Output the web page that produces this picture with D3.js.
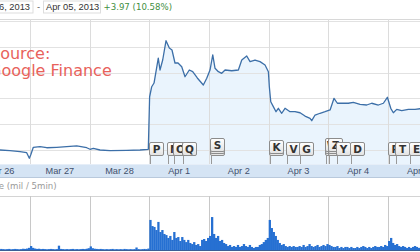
<!DOCTYPE html>
<html>
<head>
<meta charset="utf-8">
<script src="https://cdn.jsdelivr.net/npm/d3@7"></script>
<style>
  body { margin: 0; background: #fff; overflow: hidden; }
  svg { display: block; font-family: "DejaVu Sans", sans-serif; }
</style>
</head>
<body>
<svg width="420" height="252"></svg>
<script>
// header
const rangeStart = "Mar 26, 2013";
const rangeEnd   = "Apr 05, 2013";
const change     = "+3.97 (10.58%)";

// trading days, t = days since Mar 26 open
const days = ["Mar 26", "Mar 27", "Mar 28", "Apr 1", "Apr 2", "Apr 3", "Apr 4", "Apr 5"];
const priceTicks = [37.5, 40, 42.5, 45, 47.5, 50];

const priceTimes = [
    0.45, 0.498, 0.665, 0.833, 0.945, 0.989, 1.012, 1.056, 1.168, 1.280, 1.448, 1.615, 1.783, 1.951,
    2.006, 2.061, 2.174, 2.341, 2.621, 2.844, 2.983,
    3.005, 3.040, 3.079, 3.150, 3.179, 3.224, 3.280, 3.335, 3.380, 3.430, 3.481, 3.543, 3.598,
    3.670, 3.727, 3.804, 3.905, 3.962,
    4.017, 4.063, 4.101, 4.157, 4.213, 4.269, 4.381, 4.492, 4.549, 4.632, 4.688, 4.771, 4.855,
    4.939, 4.995,
    5.011, 5.035, 5.078, 5.123, 5.162, 5.219, 5.274, 5.358, 5.442, 5.526, 5.609, 5.693, 5.722,
    5.777, 5.861, 5.945,
    6.029, 6.095, 6.151, 6.251, 6.335, 6.419, 6.531, 6.643, 6.727, 6.838, 6.922, 6.989,
    7.046, 7.089, 7.146, 7.230, 7.341, 7.453, 7.537, 7.60
];
const prices = [
    37.52, 37.50, 37.43, 37.34, 37.24, 36.70, 37.02, 37.76, 37.82, 37.72, 37.76, 37.82, 37.89, 37.72,
    37.57, 37.66, 37.50, 37.43, 37.47, 37.50, 37.57,
    42.66, 43.63, 43.99, 46.41, 45.25, 46.22, 48.09, 47.38, 47.19, 45.93, 45.93, 45.57, 44.60,
    45.25, 45.09, 44.48, 43.80, 44.45,
    45.25, 46.71, 45.42, 45.09, 44.93, 45.25, 45.18, 45.25, 46.22, 46.61, 46.06, 46.22, 46.06,
    45.74, 45.09,
    43.63, 42.18, 41.70, 41.21, 41.54, 41.06, 41.54, 41.21, 41.21, 41.11, 40.79, 40.57, 40.34,
    40.89, 41.06, 41.21,
    41.38, 42.51, 42.03, 42.03, 42.03, 42.12, 41.93, 41.86, 42.03, 41.86, 42.03, 42.61,
    41.54, 41.11, 41.44, 41.31, 41.44, 41.44, 41.50, 41.49
];

// news flags
const flagLetters = ["P", "N", "O", "Q", "S", "K", "V", "G", "W", "Z", "Y", "D", "R", "T", "E"];
const flagTimes   = [3.0, 3.296, 3.397, 3.548, 4.017, 5.006, 5.29, 5.508, 5.944, 5.995, 6.128, 6.363, 6.999, 7.117, 7.352];
const flagCounts  = [1, 1, 1, 1, 3, 2, 1, 1, 3, 3, 1, 1, 1, 1, 1];

// volume, mil per bar, 30 bars per day
const volMar26 = [0.30, 0.15, 0.10, 0.08, 0.10, 0.06, 0.08, 0.05, 0.06, 0.05, 0.07, 0.05, 0.06, 0.05, 0.04,
                  0.06, 0.05, 0.04, 0.05, 0.06, 0.04, 0.05, 0.06, 0.05, 0.04, 0.05, 0.07, 0.06, 0.08, 0.12];
const volMar27 = [0.22, 0.12, 0.08, 0.06, 0.07, 0.05, 0.06, 0.05, 0.04, 0.05, 0.06, 0.05, 0.04, 0.05, 0.24,
                  0.06, 0.05, 0.04, 0.05, 0.04, 0.05, 0.06, 0.04, 0.05, 0.04, 0.05, 0.06, 0.05, 0.07, 0.10];
const volMar28 = [0.20, 0.10, 0.07, 0.06, 0.05, 0.06, 0.05, 0.04, 0.05, 0.04, 0.05, 0.06, 0.04, 0.05, 0.04,
                  0.05, 0.04, 0.06, 0.05, 0.04, 0.05, 0.04, 0.05, 0.14, 0.05, 0.04, 0.05, 0.06, 0.05, 0.08];
const volApr1  = [1.67, 1.33, 1.28, 1.11, 1.56, 1.00, 1.11, 0.89, 0.83, 0.67, 0.78, 0.56, 1.00, 0.67, 0.72,
                  0.50, 0.72, 0.56, 0.44, 0.56, 0.39, 0.33, 0.44, 0.28, 0.33, 0.22, 0.56, 0.61, 0.50, 0.67];
const volApr2  = [0.78, 1.83, 0.89, 0.67, 0.78, 0.50, 0.56, 0.39, 0.33, 0.22, 0.28, 0.17, 0.22, 0.17, 0.28,
                  0.17, 0.22, 0.33, 0.22, 0.17, 0.28, 0.17, 0.11, 0.17, 0.17, 0.28, 0.33, 0.44, 0.56, 0.67];
const volApr3  = [1.67, 1.22, 1.00, 0.78, 0.56, 0.39, 0.28, 0.33, 0.22, 0.17, 0.22, 0.17, 0.22, 0.17, 0.17,
                  0.22, 0.17, 0.28, 0.17, 0.22, 0.33, 0.22, 0.17, 0.22, 0.28, 0.17, 0.22, 0.28, 0.22, 0.33];
const volApr4  = [0.28, 0.22, 0.17, 0.17, 0.22, 0.11, 0.17, 0.11, 0.17, 0.17, 0.11, 0.17, 0.11, 0.11, 0.17,
                  0.11, 0.17, 0.22, 0.17, 0.11, 0.17, 0.11, 0.17, 0.22, 0.17, 0.17, 0.22, 0.17, 0.28, 0.22];
const volApr5  = [0.50, 0.67, 0.39, 0.28, 0.33, 0.22, 0.17, 0.22, 0.17, 0.11, 0.17, 0.11, 0.17, 0.22, 0.17,
                  0.11, 0.17];
const volumeDays = [volMar26, volMar27, volMar28, volApr1, volApr2, volApr3, volApr4, volApr5];
const barsPerDay = 30;

const svg = d3.select("svg");
const W = 420;

const x  = d3.scaleLinear().domain([0, 8]).range([-29.7, 447.7]);
const y  = d3.scaleLinear().domain([37.5, 50]).range([150, 21]);
const yv = d3.scaleLinear().domain([0, 3]).range([250, 196]);

const plotTop = 19, plotBottom = 164;

// ---- header
svg.append("rect").attr("x", -40).attr("y", 1).attr("width", 73).attr("height", 12)
    .attr("fill", "#fff").attr("stroke", "#ddd");
svg.append("text").attr("x", 30).attr("y", 10).attr("text-anchor", "end")
    .attr("font-family", "Liberation Sans").attr("font-size", 9.3).attr("fill", "#333").text(rangeStart);
svg.append("text").attr("x", 37).attr("y", 10)
    .attr("font-size", 8.6).attr("fill", "#555").text("-");
svg.append("rect").attr("x", 43.5).attr("y", 1).attr("width", 57).attr("height", 12)
    .attr("fill", "#fff").attr("stroke", "#ddd");
svg.append("text").attr("x", 46).attr("y", 10)
    .attr("font-family", "Liberation Sans").attr("font-size", 9.3).attr("fill", "#333").text(rangeEnd);
svg.append("text").attr("x", 103.5).attr("y", 10)
    .attr("font-size", 8.6).attr("fill", "#3f8f3f").text(change);

// ---- price panel
svg.append("defs").append("clipPath").attr("id", "clipPrice")
    .append("rect").attr("x", 0).attr("y", plotTop).attr("width", W).attr("height", plotBottom - plotTop);

const data = priceTimes.map((t, i) => ({ t: t, p: prices[i] }));

const area = d3.area()
    .x(d => x(d.t))
    .y0(plotBottom)
    .y1(d => y(d.p));

svg.append("path")
    .datum(data.filter(d => d.t >= 3))
    .attr("clip-path", "url(#clipPrice)")
    .attr("fill", "#eaf4fd")
    .attr("d", area);

const grid = svg.append("g");
grid.append("line").attr("x1", 0).attr("x2", W).attr("y1", plotTop + 0.5).attr("y2", plotTop + 0.5)
    .attr("stroke", "#d8d8d8");
grid.selectAll("line.h").data(priceTicks).enter().append("line")
    .attr("class", "h")
    .attr("x1", 0).attr("x2", W)
    .attr("y1", d => Math.round(y(d)) + 0.5).attr("y2", d => Math.round(y(d)) + 0.5)
    .attr("stroke", "#e2e2e2");
grid.selectAll("line.v").data(d3.range(1, 8)).enter().append("line")
    .attr("class", "v")
    .attr("x1", d => Math.round(x(d)) + 0.5).attr("x2", d => Math.round(x(d)) + 0.5)
    .attr("y1", plotTop).attr("y2", plotBottom)
    .attr("stroke", "#dcdcdc");

const line = d3.line()
    .x(d => x(d.t))
    .y(d => y(d.p));

svg.append("path")
    .datum(data)
    .attr("clip-path", "url(#clipPrice)")
    .attr("fill", "none")
    .attr("stroke", "#3c6fa8")
    .attr("stroke-width", 1.3)
    .attr("stroke-linejoin", "round")
    .attr("d", line);

// "Source" note
svg.append("text").attr("x", -10).attr("y", 59)
    .attr("font-size", 16).attr("fill", "#e8625b").text("Source:");
svg.append("text").attr("x", -11).attr("y", 76)
    .attr("font-size", 16).attr("fill", "#e8625b").text("Google Finance");

// ---- flags
const grad = svg.select("defs").append("linearGradient").attr("id", "flagFill")
    .attr("x1", 0).attr("y1", 0).attr("x2", 0).attr("y2", 1);
grad.append("stop").attr("offset", "0%").attr("stop-color", "#ffffff");
grad.append("stop").attr("offset", "100%").attr("stop-color", "#e2e2e2");

const flags = flagLetters.map((l, i) => ({ letter: l, t: flagTimes[i], n: flagCounts[i] }));
const flag = svg.append("g").selectAll("g").data(flags).enter().append("g")
    .attr("transform", d => "translate(" + Math.round(x(d.t)) + ",0)");

flag.append("line")
    .attr("x1", 1.5).attr("x2", 1.5)
    .attr("y1", 150).attr("y2", plotBottom)
    .attr("stroke", "#999");

// stacked boxes: shadows lowest, front box on top
flag.each(function (d) {
    const g = d3.select(this);
    for (let k = d.n - 1; k >= 0; k--) {
        g.append("rect")
            .attr("x", 0.5)
            .attr("y", 142.5 - (d.n - 1) * 2 + k * 2)
            .attr("width", 14).attr("height", 13)
            .attr("rx", 1.5)
            .attr("fill", "url(#flagFill)")
            .attr("stroke", "#8c8c8c");
    }
});

flag.append("text")
    .attr("x", 7.5).attr("y", d => 153 - (d.n - 1) * 2)
    .attr("text-anchor", "middle")
    .attr("font-size", 10.5).attr("font-weight", "bold").attr("fill", "#333")
    .text(d => d.letter);

// ---- date band
svg.append("rect").attr("x", 0).attr("y", plotBottom).attr("width", W).attr("height", 13.5)
    .attr("fill", "#d5e4f4");
svg.append("line").attr("x1", 0).attr("x2", W).attr("y1", plotBottom + 0.5).attr("y2", plotBottom + 0.5)
    .attr("stroke", "#e6eef8");
svg.append("line").attr("x1", 0).attr("x2", W).attr("y1", 177.5).attr("y2", 177.5)
    .attr("stroke", "#b9c9dc");

svg.append("g").selectAll("text").data(days).enter().append("text")
    .attr("x", (d, i) => x(i + 0.5))
    .attr("y", 174)
    .attr("text-anchor", "middle")
    .attr("font-family", "Liberation Sans")
    .attr("font-size", 9.2)
    .attr("fill", "#42506c")
    .text(d => d);

// ---- volume panel
svg.append("text").attr("x", -28).attr("y", 189)
    .attr("font-size", 8.6).attr("fill", "#999").text("Volume (mil / 5min)");
svg.append("line").attr("x1", 0).attr("x2", W).attr("y1", 196.5).attr("y2", 196.5)
    .attr("stroke", "#d4d4d4");

const bars = [];
volumeDays.forEach((vals, day) => {
    vals.forEach((v, i) => bars.push({ t: day + i / barsPerDay, v: v }));
});
const bw = x(1 / barsPerDay) - x(0);

svg.append("g").selectAll("line").data(d3.range(1, 8)).enter().append("line")
    .attr("x1", d => Math.round(x(d)) + 0.5).attr("x2", d => Math.round(x(d)) + 0.5)
    .attr("y1", 196).attr("y2", 250)
    .attr("stroke", "#c8c8c8");

svg.append("g").selectAll("rect").data(bars).enter().append("rect")
    .attr("x", d => x(d.t))
    .attr("y", d => yv(d.v))
    .attr("width", bw + 0.3)
    .attr("height", d => yv(0) - yv(d.v))
    .attr("fill", "#2670d2");

svg.append("line").attr("x1", 0).attr("x2", W).attr("y1", 250.5).attr("y2", 250.5)
    .attr("stroke", "#3b5f96");
</script>
</body>
</html>
